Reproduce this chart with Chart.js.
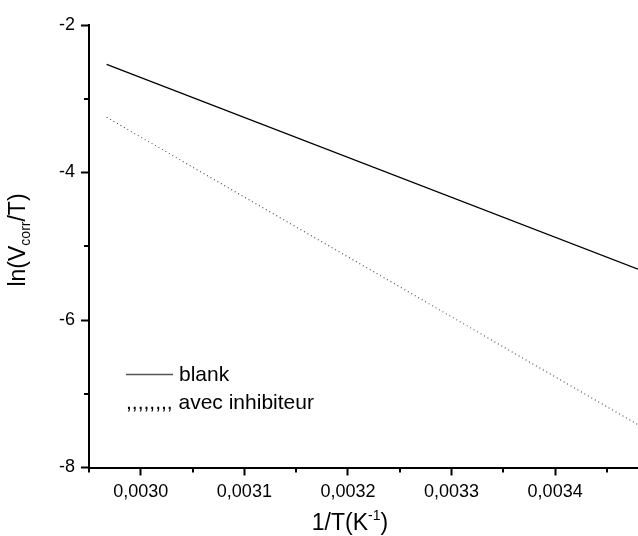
<!DOCTYPE html>
<html>
<head>
<meta charset="utf-8">
<script src="https://cdn.jsdelivr.net/npm/chart.js@4/dist/chart.umd.min.js"></script>
<style>
html,body{margin:0;padding:0;background:#fff;}
#c{display:block;}
</style>
</head>
<body>
<canvas id="c" width="638" height="536"></canvas>
<script>
// ---- data ----
const xValues = [0.002967, 0.00348];          // 1/T (K^-1)
const blankValues = [-2.533, -5.31];          // ln(Vcorr/T), blank
const inhibValues = [-3.252, -7.42];          // ln(Vcorr/T), avec inhibiteur
const seriesNames = ["blank", ",,,,,,,, avec inhibiteur"];
const xRange = [0.00295, 0.00348];
const yRange = [-8, -2];
const xTickStep = 0.00005;
const yTickStep = 1;

const FONT = "'Liberation Sans', Arial, Helvetica, sans-serif";

function pts(xs, ys){ return xs.map((x,i)=>({x:x, y:ys[i]})); }

function isMajorX(v){ return Math.round(v*1e5) % 2 === 0; }
function isMajorY(v){ return Math.round(v) % 2 === 0; }

const overlay = {
  id: 'overlay',
  afterDraw(chart){
    const ctx = chart.ctx;
    const xs = chart.scales.x, ys = chart.scales.y;
    const ca = chart.chartArea;
    ctx.save();
    // minor ticks
    ctx.strokeStyle = '#000';
    ctx.lineWidth = 2;
    xs.ticks.forEach(t=>{
      if(!isMajorX(t.value)){
        const px = Math.round(xs.getPixelForValue(t.value));
        ctx.beginPath(); ctx.moveTo(px, ca.bottom); ctx.lineTo(px, ca.bottom+5); ctx.stroke();
      }
    });
    ys.ticks.forEach(t=>{
      if(!isMajorY(t.value)){
        const py = Math.round(ys.getPixelForValue(t.value));
        ctx.beginPath(); ctx.moveTo(ca.left, py); ctx.lineTo(ca.left-5, py); ctx.stroke();
      }
    });

    ctx.fillStyle = '#000';
    // x title with superscript
    const big = "23px " + FONT, small = "14px " + FONT;
    ctx.font = big;
    const p1 = "1/T(K", p3 = ")";
    ctx.font = small; const w2 = ctx.measureText("-1").width;
    ctx.font = big; const w1 = ctx.measureText(p1).width, w3 = ctx.measureText(p3).width;
    const total = w1 + w2 + w3;
    let x0 = 350 - total/2;
    const by = 530;
    ctx.textBaseline = 'alphabetic'; ctx.textAlign = 'left';
    ctx.fillText(p1, x0, by);
    ctx.font = small; ctx.fillText("-1", x0 + w1, by - 10);
    ctx.font = big; ctx.fillText(p3, x0 + w1 + w2, by);

    // y title with subscript, rotated
    ctx.save();
    ctx.translate(25, 240);
    ctx.rotate(-Math.PI/2);
    const q1 = "ln(V", q2 = "corr", q3 = "/T)";
    ctx.font = big; const v1 = ctx.measureText(q1).width, v3 = ctx.measureText(q3).width;
    ctx.font = small; const v2 = ctx.measureText(q2).width;
    let s0 = -(v1+v2+v3)/2;
    ctx.font = big; ctx.fillText(q1, s0, 0);
    ctx.font = small; ctx.fillText(q2, s0 + v1, 5);
    ctx.font = big; ctx.fillText(q3, s0 + v1 + v2, 0);
    ctx.restore();

    // legend
    ctx.strokeStyle = '#555';
    ctx.lineWidth = 1.5;
    ctx.beginPath(); ctx.moveTo(126, 374.5); ctx.lineTo(173, 374.5); ctx.stroke();
    ctx.font = "21px " + FONT;
    ctx.textBaseline = 'middle';
    ctx.fillStyle = '#000';
    ctx.fillText(seriesNames[0], 179, 375);
    ctx.fillText(seriesNames[1], 126, 403);
    ctx.restore();
  }
};

new Chart(document.getElementById('c'), {
  type: 'line',
  data: {
    datasets: [
      { label: seriesNames[0], data: pts(xValues, blankValues), borderColor: '#000', borderWidth: 1.3,
        pointRadius: 0, fill: false, tension: 0 },
      { label: seriesNames[1], data: pts(xValues, inhibValues), borderColor: '#444', borderWidth: 1.1,
        borderDash: [1, 3], pointRadius: 0, fill: false, tension: 0 }
    ]
  },
  options: {
    responsive: false,
    animation: false,
    devicePixelRatio: 1,
    layout: { padding: { top: 25, right: 0, left: 0, bottom: 0 } },
    plugins: { legend: { display: false }, tooltip: { enabled: false }, title: { display: false } },
    scales: {
      x: {
        type: 'linear',
        min: xRange[0], max: xRange[1],
        afterFit(s){ s.height = 68.5; },
        afterBuildTicks(s){
          const t = [];
          for(let i=0;;i++){ const v = xRange[0] + i*xTickStep; if(v > xRange[1] + 1e-9) break; t.push({value: +v.toFixed(6)}); }
          s.ticks = t;
        },
        grid: { drawOnChartArea: false, drawTicks: true, tickLength: 8, tickWidth: 2,
          tickColor: (c)=> (c.tick && isMajorX(c.tick.value)) ? '#000' : 'rgba(0,0,0,0)' },
        border: { display: true, color: '#000', width: 2 },
        ticks: {
          autoSkip: false, maxRotation: 0, padding: 6, color: '#000',
          font: { family: FONT, size: 18 },
          callback: (v)=> isMajorX(v) ? v.toFixed(4).replace('.', ',') : ''
        }
      },
      y: {
        type: 'linear',
        min: yRange[0], max: yRange[1],
        afterFit(s){ s.width = 89; },
        ticks: {
          stepSize: yTickStep, autoSkip: false, padding: 6, color: '#000',
          font: { family: FONT, size: 18 },
          callback: (v)=> isMajorY(v) ? String(v) : ''
        },
        grid: { drawOnChartArea: false, drawTicks: true, tickLength: 8, tickWidth: 2,
          tickColor: (c)=> (c.tick && isMajorY(c.tick.value)) ? '#000' : 'rgba(0,0,0,0)' },
        border: { display: true, color: '#000', width: 2 }
      }
    }
  },
  plugins: [overlay]
});
</script>
</body>
</html>
